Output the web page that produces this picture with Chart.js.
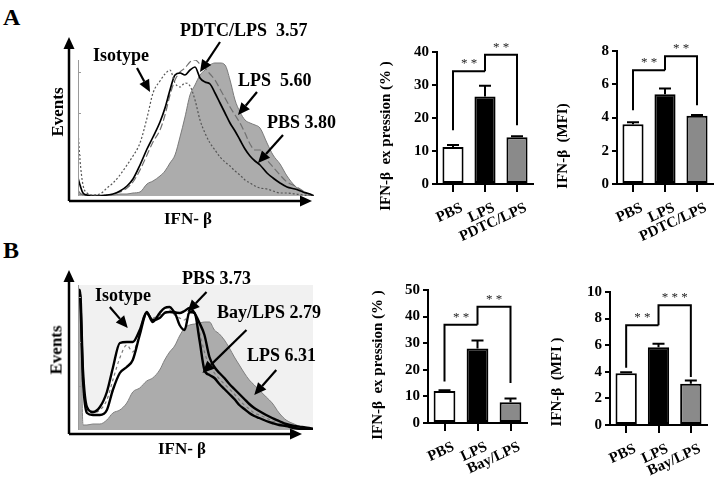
<!DOCTYPE html>
<html>
<head>
<meta charset="utf-8">
<title>IFN-β expression</title>
<script src="https://cdn.jsdelivr.net/npm/chart.js@4.4.1/dist/chart.umd.min.js"></script>
<style>
  html, body { margin: 0; padding: 0; background: #fff; }
  #fig { position: relative; width: 721px; height: 481px; overflow: hidden;
         font-family: "Liberation Serif", "Times New Roman", serif; font-weight: bold; color: #000; }
  #fig canvas { position: absolute; }
  .t { position: absolute; white-space: pre; line-height: 1; }
  .lab { font-size: 18px; }
  .ctr { transform: translate(-50%, -50%); }
  .rot { transform: translate(-50%, -50%) rotate(-90deg); }
  .ytl { font-size: 15px; }
</style>
</head>
<body>
<div id="fig">
  <canvas id="histA" width="270" height="190" style="left:60px;top:30px"></canvas>
  <canvas id="histB" width="270" height="190" style="left:60px;top:265px"></canvas>
  <canvas id="pctA" width="175" height="220" style="left:365px;top:30px"></canvas>
  <canvas id="mfiA" width="176" height="220" style="left:545px;top:30px"></canvas>
  <canvas id="pctB" width="175" height="216" style="left:360px;top:265px"></canvas>
  <canvas id="mfiB" width="181" height="216" style="left:540px;top:265px"></canvas>

  <div class="t" style="left:3px;top:5px;font-size:24px">A</div>
  <div class="t" style="left:3px;top:238px;font-size:24px">B</div>

  <div class="t lab" style="left:93px;top:46px">Isotype</div>
  <div class="t lab" style="left:180px;top:21px">PDTC/LPS  3.57</div>
  <div class="t lab" style="left:238px;top:71px">LPS  5.60</div>
  <div class="t lab" style="left:267px;top:113px">PBS 3.80</div>
  <div class="t lab rot" style="left:57px;top:112px;font-size:17px">Events</div>
  <div class="t lab ctr" style="left:188px;top:218px;font-size:17px">IFN- β</div>

  <div class="t lab" style="left:95px;top:286px">Isotype</div>
  <div class="t lab" style="left:182px;top:269px">PBS 3.73</div>
  <div class="t lab" style="left:217px;top:303px">Bay/LPS 2.79</div>
  <div class="t lab" style="left:247px;top:346px">LPS 6.31</div>
  <div class="t lab rot" style="left:56px;top:350px;font-size:17px">Events</div>
  <div class="t lab ctr" style="left:182px;top:448px;font-size:17px">IFN- β</div>

  <div class="t ytl rot" style="left:385px;top:136px">IFN-β  ex pression (% )</div>
  <div class="t ytl rot" style="left:562px;top:146px">IFN-β  (MFI)</div>
  <div class="t ytl rot" style="left:377px;top:365px">IFN-β  ex pression (% )</div>
  <div class="t ytl rot" style="left:556px;top:382px">IFN-β  (MFI )</div>
</div>

<script>
// histogram channels (arbitrary fluorescence units) shared by all curves
const histChannel = [0, 2, 5, 9, 15, 22, 29, 35, 42, 49, 55, 62, 69, 75, 82, 87, 92, 97, 102, 107, 112, 117, 122, 127, 132, 137, 142, 147, 152, 157, 162, 167, 172, 177, 182, 189, 195, 202, 209, 217, 225, 232, 236];

// panel A histograms (events)
const histAIsotype = [66, 36, 11, 3, 1, 2, 8, 13, 21, 31, 40, 53, 78, 103, 115, 122, 126, 113, 109, 113, 110, 96, 76, 63, 53, 46, 39, 34, 30, 25, 21, 16, 13, 10, 8, 7, 5, 3, 3, 2, 1, 0, 0];
const histAPDTC = [18, 11, 3, 1, 0, 0, 1, 2, 5, 10, 17, 31, 47, 59, 74, 88, 106, 121, 123, 121, 126, 129, 118, 114, 112, 103, 93, 83, 73, 65, 56, 47, 40, 35, 31, 23, 18, 13, 9, 7, 4, 2, 0];
const histAPBS = [6, 3, 1, 0, 0, 0, 1, 2, 4, 8, 14, 26, 41, 54, 66, 81, 101, 116, 124, 128, 134, 136, 132, 128, 122, 116, 107, 98, 89, 81, 73, 63, 52, 46, 46, 36, 29, 21, 14, 10, 5, 1, 0];
const histALPS = [2, 2, 1, 1, 1, 1, 1, 1, 2, 2, 3, 4, 12, 15, 20, 25, 33, 41, 59, 79, 101, 111, 121, 126, 131, 133, 133, 131, 116, 96, 84, 76, 73, 71, 68, 53, 41, 32, 20, 10, 4, 0, 0];

// panel B histograms (events)
const histBIsotype = [140, 138, 55, 20, 17, 20, 30, 50, 72, 85, 78, 97, 115, 112, 115, 118, 120, 115, 112, 110, 118, 117, 98, 78, 64, 57, 51, 46, 41, 36, 30, 25, 21, 17, 15, 12, 9, 7, 5, 3, 2, 1, 1];
const histBPBS = [140, 140, 60, 23, 18, 23, 38, 62, 87, 88, 88, 100, 118, 108, 117, 122, 123, 118, 117, 119, 122, 117, 107, 95, 73, 63, 57, 52, 46, 41, 36, 31, 26, 22, 19, 15, 12, 9, 6, 4, 3, 2, 1];
const histBBay = [140, 135, 50, 17, 15, 15, 20, 40, 57, 63, 70, 95, 117, 110, 112, 117, 118, 117, 105, 100, 118, 117, 90, 60, 55, 52, 46, 41, 36, 31, 25, 21, 17, 14, 12, 9, 7, 5, 4, 2, 1, 1, 1];
const histBLPS = [140, 140, 5, 5, 6, 6, 10, 17, 20, 27, 38, 42, 49, 52, 60, 70, 78, 84, 94, 102, 105, 106, 107, 108, 108, 100, 96, 90, 82, 73, 65, 57, 50, 45, 40, 33, 27, 17, 10, 6, 3, 2, 2];

// bar charts
const groupsA = ["PBS", "LPS", "PDTC/LPS"];
const groupsB = ["PBS", "LPS", "Bay/LPS"];
const pctA = [11.2, 26.5, 14.2];
const pctAErr = [0.6, 3.3, 0.3];
const mfiA = [3.6, 5.4, 4.1];
const mfiAErr = [0.12, 0.35, 0.05];
const pctB = [12.0, 28.0, 7.8];
const pctBErr = [0.3, 3.0, 1.4];
const mfiB = [3.9, 5.85, 3.1];
const mfiBErr = [0.06, 0.25, 0.25];

// significance brackets: [from, to, height, left leg end, right leg end, stars]
const pctASig = [[0, 1, 34.2, 16.3, 34.2, "* *"], [1, 2, 39.2, 34.2, 17.8, "* *"]];
const mfiASig = [[0, 1, 6.84, 4.44, 6.84, "* *"], [1, 2, 7.68, 6.84, 4.74, "* *"]];
const pctBSig = [[0, 1, 36.9, 15.6, 36.9, "* *"], [1, 2, 43.75, 36.9, 15.0, "* *"]];
const mfiBSig = [[0, 1, 7.5, 4.3, 7.5, "* *"], [1, 2, 9.0, 7.5, 3.6, "* * *"]];

const barFills = ["#ffffff", "#000000", "#8a8a8a"];
const FONT = "'Liberation Serif', 'Times New Roman', serif";
Chart.defaults.font.family = FONT;

function pts(ys) {
  return histChannel.map((c, i) => ({ x: c, y: ys[i] }));
}

function arrow(ctx, x1, y1, x2, y2) {
  const a = Math.atan2(y2 - y1, x2 - x1);
  const head = 12, half = 5.5;
  const bx = x2 - head * Math.cos(a), by = y2 - head * Math.sin(a);
  ctx.beginPath();
  ctx.moveTo(x1, y1);
  ctx.lineTo(bx, by);
  ctx.stroke();
  ctx.beginPath();
  ctx.moveTo(x2, y2);
  ctx.lineTo(bx + half * Math.sin(a), by - half * Math.cos(a));
  ctx.lineTo(bx - half * Math.sin(a), by + half * Math.cos(a));
  ctx.closePath();
  ctx.fill();
}

// decorations for the histograms: frame, outer arrow axes, label arrows
const histDecoInfo = {
  histA: {
    bg: "#ffffff",
    axisGap: 9, axisDrop: 5, yTip: 23, xTip: -2,
    pointers: [[72, 104, -13, -24], [122, 124, 20, -30], [160, 81, 19, -23], [180, 33, 25, -28]]
  },
  histB: {
    bg: "#f1f1f1",
    axisGap: 9, axisDrop: 4, yTip: 15, xTip: -11,
    pointers: [[50, 102, -18, -21], [110, 118, 19, -20], [125, 57, 44, -43], [177, 35, 22, -25]]
  }
};

const histDeco = {
  id: "histDeco",
  beforeDatasetsDraw(chart) {
    const info = histDecoInfo[chart.canvas.id];
    const { ctx, chartArea: ca } = chart;
    ctx.save();
    ctx.fillStyle = info.bg;
    ctx.fillRect(ca.left, ca.top, ca.right - ca.left, ca.bottom - ca.top);
    ctx.restore();
  },
  afterDatasetsDraw(chart) {
    const info = histDecoInfo[chart.canvas.id];
    const { ctx, chartArea: ca, scales } = chart;
    ctx.save();
    // inner frame line and small ticks
    ctx.strokeStyle = "#9a9a9a";
    ctx.lineWidth = 1;
    ctx.beginPath();
    ctx.moveTo(ca.left + 0.5, ca.top);
    ctx.lineTo(ca.left + 0.5, ca.bottom);
    for (let k = 1; k <= 3; k++) {
      const yy = Math.round(ca.bottom - (ca.bottom - ca.top) * k * 0.305) + 0.5;
      ctx.moveTo(ca.left, yy);
      ctx.lineTo(ca.left + 3, yy);
    }
    ctx.stroke();
    // outer axes with arrow heads
    ctx.strokeStyle = "#000";
    ctx.fillStyle = "#000";
    ctx.lineWidth = 2.5;
    const ox = ca.left - info.axisGap, oy = ca.bottom + info.axisDrop;
    arrow(ctx, ox, oy, ox, ca.top - info.yTip);
    arrow(ctx, ox, oy, ca.right + info.xTip, oy);
    // pointers from labels
    ctx.lineWidth = 2.2;
    info.pointers.forEach(([cx, cy, dx, dy]) => {
      const tx = scales.x.getPixelForValue(cx), ty = scales.y.getPixelForValue(cy);
      arrow(ctx, tx + dx, ty + dy, tx, ty);
    });
    ctx.restore();
  }
};

function histChart(id, datasets, yMax, pad) {
  return new Chart(document.getElementById(id), {
    type: "line",
    data: { datasets: datasets },
    options: {
      responsive: false,
      animation: false,
      events: [],
      layout: { padding: pad },
      elements: { point: { radius: 0 }, line: { cubicInterpolationMode: "monotone" } },
      plugins: { legend: { display: false }, tooltip: { enabled: false } },
      scales: {
        x: { type: "linear", min: 0, max: 236, display: false },
        y: { min: 0, max: yMax, display: false }
      }
    },
    plugins: [histDeco]
  });
}

histChart("histA", [
  { data: pts(histAIsotype), borderColor: "#555", borderWidth: 1.2, borderDash: [2, 2], fill: false },
  { data: pts(histAPDTC), borderColor: "#000", borderWidth: 1.7, fill: false },
  { data: pts(histAPBS), borderColor: "#707070", borderWidth: 1.2, borderDash: [7, 3], fill: false },
  { data: pts(histALPS), borderColor: "#7a7a7a", borderWidth: 1, backgroundColor: "#acacac", fill: "origin" }
], 136, { left: 18, top: 30, right: 16, bottom: 24 });

histChart("histB", [
  { data: pts(histBPBS), borderColor: "#000", borderWidth: 2.4, fill: false },
  { data: pts(histBBay), borderColor: "#000", borderWidth: 2.4, fill: false },
  { data: pts(histBIsotype), borderColor: "#7a7a7a", borderWidth: 1.2, borderDash: [3, 3], fill: false },
  { data: pts(histBLPS), borderColor: "#808080", borderWidth: 1, backgroundColor: "#acacac", fill: "origin" },
  { data: pts(histBPBS), borderWidth: 0, backgroundColor: "#ffffff", fill: "origin" },
  { data: pts(histBBay), borderWidth: 0, backgroundColor: "#ffffff", fill: "origin" }
], 145, { left: 18, top: 20, right: 17, bottom: 25 });

// error bars and significance brackets
const barInfo = {
  pctA: { values: pctA, errs: pctAErr, sig: pctASig },
  mfiA: { values: mfiA, errs: mfiAErr, sig: mfiASig },
  pctB: { values: pctB, errs: pctBErr, sig: pctBSig },
  mfiB: { values: mfiB, errs: mfiBErr, sig: mfiBSig }
};

const barDeco = {
  id: "barDeco",
  afterDatasetsDraw(chart) {
    const d = barInfo[chart.canvas.id];
    const { ctx } = chart;
    const x = chart.scales.x, y = chart.scales.y;
    ctx.save();
    ctx.strokeStyle = "#000";
    ctx.lineWidth = 2;
    d.values.forEach((v, i) => {
      const px = x.getPixelForValue(i);
      const top = y.getPixelForValue(v + d.errs[i]);
      ctx.beginPath();
      ctx.moveTo(px, y.getPixelForValue(v));
      ctx.lineTo(px, top);
      ctx.moveTo(px - 6, top);
      ctx.lineTo(px + 6, top);
      ctx.stroke();
    });
    d.sig.forEach(([a, b, h, la, lb, txt]) => {
      const xa = x.getPixelForValue(a), xb = x.getPixelForValue(b), yh = y.getPixelForValue(h);
      ctx.beginPath();
      ctx.moveTo(xa, y.getPixelForValue(la));
      ctx.lineTo(xa, yh);
      ctx.lineTo(xb, yh);
      ctx.lineTo(xb, y.getPixelForValue(lb));
      ctx.stroke();
      ctx.fillStyle = "#222";
      ctx.font = "13px " + FONT;
      ctx.textAlign = "center";
      ctx.textBaseline = "bottom";
      ctx.fillText(txt, (xa + xb) / 2, yh - 1);
    });
    ctx.restore();
  }
};

function barChart(id, labels, values, yMax, step, g) {
  const tickFont = { family: FONT, size: 15, weight: "bold" };
  return new Chart(document.getElementById(id), {
    type: "bar",
    data: {
      labels: labels,
      datasets: [{
        data: values,
        backgroundColor: barFills,
        borderColor: "#000",
        borderWidth: 2,
        borderSkipped: false,
        barPercentage: 0.66,
        categoryPercentage: 1
      }]
    },
    options: {
      responsive: false,
      animation: false,
      events: [],
      layout: { padding: { top: g.top, right: g.right, left: 0, bottom: 0 } },
      plugins: { legend: { display: false }, tooltip: { enabled: false } },
      scales: {
        x: {
          grid: { drawOnChartArea: false, drawTicks: true, tickLength: 8, color: "#000", lineWidth: 2, offset: false },
          border: { color: "#000", width: 2 },
          ticks: { color: "#000", font: tickFont, minRotation: 25, maxRotation: 25, padding: 7, labelOffset: 9, autoSkip: false },
          afterFit: (s) => { s.height = g.xh; }
        },
        y: {
          min: 0,
          max: yMax,
          grid: { drawOnChartArea: false, drawTicks: true, tickLength: 5, color: "#000", lineWidth: 2 },
          border: { color: "#000", width: 2 },
          ticks: { stepSize: step, color: "#000", font: tickFont, padding: 3 },
          afterFit: (s) => { s.width = g.yw; }
        }
      }
    },
    plugins: [barDeco]
  });
}

barChart("pctA", groupsA, pctA, 40, 10, { yw: 72, top: 22, right: 7, xh: 66 });
barChart("mfiA", groupsA, mfiA, 8, 2, { yw: 72, top: 21, right: 8, xh: 66 });
barChart("pctB", groupsB, pctB, 50, 10, { yw: 68, top: 25, right: 8, xh: 58 });
barChart("mfiB", groupsB, mfiB, 10, 2, { yw: 70, top: 27, right: 14, xh: 56 });
</script>
</body>
</html>
